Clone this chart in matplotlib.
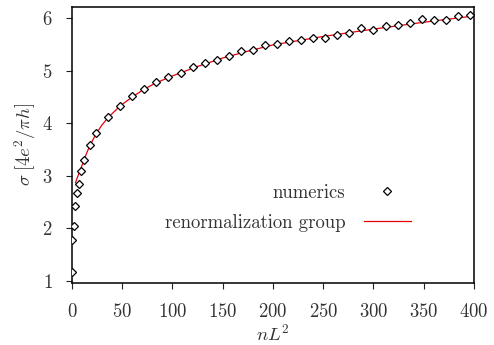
import matplotlib
matplotlib.use("Agg")
import matplotlib.pyplot as plt

# numerics (diamonds)
nl2_num = [0, 0.5, 2, 3.5, 5, 7, 8.7, 12, 18, 24, 36, 48, 60, 72, 84, 96, 108,
           120, 132, 144, 156, 168, 180, 192, 204, 216, 228, 240, 252, 264, 276,
           288, 300, 312, 324, 336, 348, 360, 372, 384, 396]
sigma_num = [1.18, 1.77, 2.04, 2.42, 2.67, 2.84, 3.10, 3.30, 3.59, 3.82, 4.12,
             4.33, 4.51, 4.66, 4.78, 4.87, 4.95, 5.06, 5.15, 5.20, 5.28, 5.37,
             5.40, 5.48, 5.50, 5.56, 5.59, 5.63, 5.62, 5.68, 5.71, 5.81, 5.77,
             5.85, 5.86, 5.90, 5.98, 5.96, 5.97, 6.03, 6.06]

# renormalization group curve
nl2_rg = [3.5, 5, 7, 9, 12, 15, 18, 24, 30, 36, 48, 60, 72, 84, 100, 125, 150,
          175, 200, 250, 300, 350, 400]
sigma_rg = [2.87, 2.95, 3.05, 3.15, 3.30, 3.45, 3.58, 3.80, 3.97, 4.11, 4.33,
            4.50, 4.65, 4.77, 4.90, 5.08, 5.24, 5.37, 5.49, 5.65, 5.79, 5.92, 6.04]

xticks = [0, 50, 100, 150, 200, 250, 300, 350, 400]
yticks = [1, 2, 3, 4, 5, 6]

plt.rcParams['font.family'] = 'serif'
plt.rcParams['font.serif'] = ['cmr10', 'DejaVu Serif']
plt.rcParams['mathtext.fontset'] = 'cm'
plt.rcParams['axes.formatter.use_mathtext'] = True
plt.rcParams['font.size'] = 13.5
plt.rcParams['text.color'] = '#333333'
plt.rcParams['axes.labelcolor'] = '#333333'
plt.rcParams['xtick.color'] = '#222222'
plt.rcParams['ytick.color'] = '#222222'
plt.rcParams['xtick.labelcolor'] = '#333333'
plt.rcParams['ytick.labelcolor'] = '#333333'

fig = plt.figure(figsize=(4.94, 3.45), dpi=100)
ax = fig.add_axes([0.1457, 0.181, 0.8138, 0.7987])

ax.plot(nl2_num, sigma_num, linestyle='none', marker='D', ms=4.3,
        mfc='white', mec='black', mew=0.9, label='numerics', zorder=3)
ax.plot(nl2_rg, sigma_rg, color='#e8000b', lw=0.9, label='renormalization group',
        zorder=2)

ax.set_xlim(0, 400)
ax.set_ylim(0.97, 6.21)
ax.set_xticks(xticks)
ax.set_yticks(yticks)
ax.tick_params(direction='out', length=4, width=0.8, top=False, right=False)
ax.tick_params(axis='x', pad=10.5)
ax.tick_params(axis='y', pad=10)
for s in ax.spines.values():
    s.set_linewidth(1.1)

ax.set_xlabel(r'$nL^2$', labelpad=2.5)
ax.set_ylabel(r'$\sigma\;[4e^2/\pi h]$', labelpad=3)

ax.legend(loc='center right', bbox_to_anchor=(0.843, 0.271), frameon=False,
          markerfirst=False, handlelength=2.5, handletextpad=1.0,
          labelspacing=0.66, borderpad=0, borderaxespad=0)

fig.savefig('out.png', dpi=100)
